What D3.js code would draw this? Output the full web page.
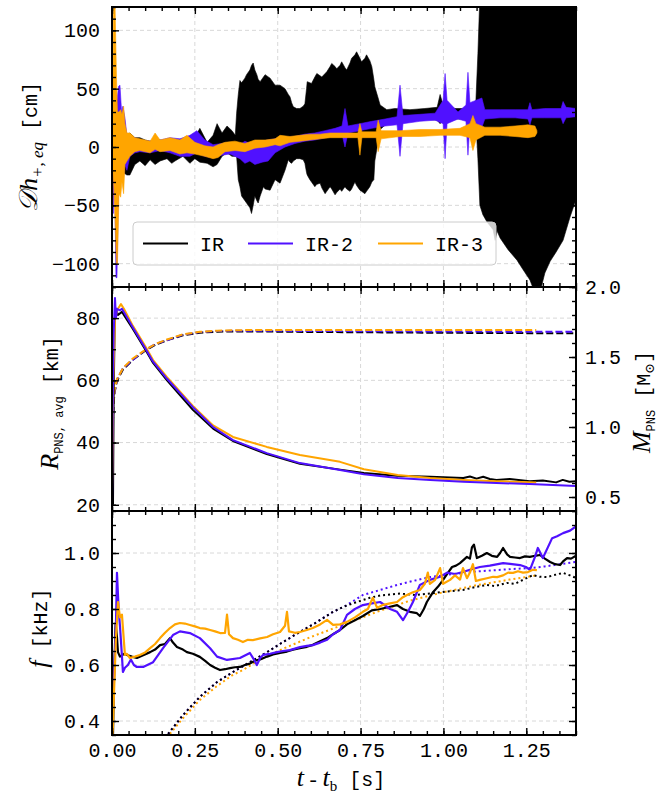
<!DOCTYPE html>
<html>
<head>
<meta charset="utf-8">
<script src="https://cdn.jsdelivr.net/npm/d3@7"></script>
<style>
	body { margin: 0; background: #fff; }
	svg { display: block; }
</style>
</head>
<body>
<svg id="chart" width="668" height="793"></svg>
<script>
// ---- data ----
const seriesNames = ['IR', 'IR-2', 'IR-3'];
const seriesColors = ['#000000', '#5011ff', '#ffa500'];

const timeTicks = [0, 0.25, 0.5, 0.75, 1.0, 1.25];
const strainTicks = [-100, -50, 0, 50, 100];
const radiusTicks = [20, 40, 60, 80];
const massTicks = [0.5, 1.0, 1.5, 2.0];
const freqTicks = [0.4, 0.6, 0.8, 1.0];

// strain envelopes: [t, lower, upper] in cm
const strainIR = [
	[0, -5, 5], [0.009, -20, 20], [0.024, -20, 10], [0.045, -24, 10], [0.054, -24, 12], [0.069, -15, 8],
	[0.084, -12, 8], [0.1, -16, 6], [0.115, -11, 5], [0.13, -15, 7], [0.145, -12, 6], [0.166, -10, 4],
	[0.18, -14, 5], [0.19, -12, 3], [0.214, -8, 2], [0.235, -14, 6], [0.25, -10, 8], [0.265, -13, 16],
	[0.287, -14, 4], [0.305, -17, 10], [0.317, -15, 20], [0.332, -8, 12], [0.347, -5, 18], [0.362, -8, 14],
	[0.372, -8, 10], [0.376, -8, 29], [0.381, -28, 45], [0.386, -34, 57], [0.391, -42, 55], [0.401, -46, 59],
	[0.406, -48, 62], [0.416, -52, 66], [0.421, -57, 70], [0.426, -50, 72], [0.431, -42, 66], [0.437, -46, 62],
	[0.441, -48, 58], [0.447, -42, 56], [0.457, -34, 60], [0.462, -36, 62], [0.477, -37, 59], [0.492, -28, 53],
	[0.507, -31, 53], [0.522, -20, 50], [0.532, -11, 45], [0.537, -13, 43], [0.542, -14, 38], [0.547, -12, 34.5],
	[0.557, -10, 33], [0.567, -10, 33], [0.577, -11, 35], [0.582, -14, 37], [0.587, -22, 50], [0.589, -24, 56],
	[0.597, -28, 55], [0.602, -30, 54.5], [0.612, -34, 60], [0.618, -32, 63], [0.628, -31, 61], [0.633, -35, 60],
	[0.643, -40, 63], [0.648, -38, 64.5], [0.658, -34, 69], [0.663, -36, 71.6], [0.673, -41, 69], [0.678, -39, 67],
	[0.688, -36, 70], [0.693, -38, 73], [0.703, -34, 68], [0.708, -36, 66], [0.718, -38, 72], [0.723, -36, 76],
	[0.733, -30, 79], [0.738, -33, 81.6], [0.748, -37, 76], [0.753, -38, 73], [0.763, -40, 76], [0.768, -38, 79],
	[0.778, -34, 74], [0.784, -30, 68.8], [0.79, -28, 58], [0.793, -12, 51.6], [0.803, 5, 42], [0.809, 15, 36],
	[0.829, 20, 32], [0.854, 22, 33], [0.899, 24, 32], [0.944, 24, 33], [0.981, 23, 34], [0.99, 20, 45],
	[0.999, 24, 36], [1.035, 24, 33], [1.08, 24, 33], [1.098, 22, 40], [1.104, -10, 80], [1.11, -50, 130],
	[1.119, -58, 160], [1.131, -64, 160], [1.15, -71, 160], [1.156, -80, 160], [1.162, -72, 160],
	[1.171, -78, 160], [1.195, -88, 160], [1.222, -97, 160], [1.24, -105, 160], [1.261, -114, 160],
	[1.276, -125, 160], [1.291, -125, 160], [1.306, -108, 160], [1.322, -98, 160], [1.34, -90, 160],
	[1.361, -80, 160], [1.382, -60, 160], [1.4, -45, 160]
];
const strainIR2 = [
	[0, 10, 17], [0.002, -55, 17], [0.004, -57, 10], [0.0075, -20, 20], [0.012, -112, 10], [0.015, -112, 40],
	[0.02, -30, 52], [0.024, -20, 53], [0.029, -25, 30], [0.033, -30, 35], [0.039, -15, 25], [0.045, -20, 10],
	[0.054, -8, 10], [0.069, -5, 8], [0.084, -4, 6], [0.115, -5, 5], [0.145, -3, 6], [0.175, -5, 8],
	[0.205, -8, 7], [0.235, -8, 10], [0.256, -5, 14], [0.28, -8, 6], [0.305, -9, 2], [0.332, -7, 3],
	[0.356, -6, 4], [0.386, -10, 2], [0.401, -14, 5], [0.416, -12, 3], [0.431, -15, 4], [0.453, -13, 5],
	[0.471, -12, 6], [0.492, -5, 7], [0.522, 0, 8], [0.552, 3, 9], [0.582, 5, 11], [0.612, 6, 12],
	[0.643, 8, 14], [0.673, 10, 16], [0.694, 11, 18], [0.703, 0, 33], [0.712, 12, 18], [0.748, 14, 20],
	[0.784, 16, 22], [0.824, 18, 24], [0.86, 19, 26], [0.869, -8, 53], [0.878, 20, 27], [0.929, 22, 28],
	[0.975, 23, 29], [0.999, 20, 40], [1.005, -10, 63], [1.011, 20, 40], [1.044, 24, 30], [1.068, 22, 36],
	[1.074, -7, 64], [1.08, 20, 38], [1.116, 17, 42], [1.125, 24, 32], [1.171, 25, 32], [1.216, 25, 32],
	[1.255, 24, 32], [1.261, 19, 38], [1.267, 25, 32], [1.306, 25, 33], [1.355, 25, 33], [1.361, 20, 39],
	[1.37, 25, 34], [1.4, 26, 33]
];
const strainIR3 = [
	[0, -5, 5], [0.002, -50, 15], [0.0045, -20, 125], [0.009, -60, 125], [0.0135, -100, 60], [0.0165, -100, 30],
	[0.021, -40, 30], [0.026, -43, 32], [0.03, -30, 28], [0.035, -40, 35], [0.039, -15, 20], [0.045, -12, 12],
	[0.054, -8, 12], [0.069, -4, 8], [0.084, -3, 7], [0.115, -5, 5], [0.13, -2, 12], [0.145, -4, 6],
	[0.175, -3, 8], [0.205, -6, 6], [0.226, -5, 10], [0.25, -6, 4], [0.28, -8, 1], [0.305, -10, 0],
	[0.32, -9, 2], [0.341, -4, 4], [0.371, -3, 5], [0.401, -4, 3], [0.431, -1, 6], [0.462, 0, 6],
	[0.492, 2, 7], [0.507, 1, 10], [0.537, 4, 9], [0.567, 5, 10], [0.597, 6, 11], [0.628, 7, 11],
	[0.658, 8, 12], [0.703, 8, 12], [0.742, 8, 12], [0.748, -7, 20], [0.754, 8, 13], [0.797, 8, 13],
	[0.803, -4, 23], [0.812, 7, 14], [0.869, 9, 14], [0.929, 9, 15], [0.99, 10, 15], [1.05, 10, 16],
	[1.08, 8, 20], [1.089, -3, 27], [1.098, 6, 20], [1.125, 10, 17], [1.171, 10, 17], [1.216, 9, 18],
	[1.255, 8, 19], [1.276, 9, 18], [1.282, 12, 14]
];

// PNS radius [t, km]
const radiusIR = [
	[0.003, 20], [0.005, 55], [0.008, 78], [0.012, 83], [0.018, 81], [0.03, 82], [0.063, 76.5], [0.1, 70],
	[0.124, 65.6], [0.166, 60], [0.244, 50.5], [0.305, 44.5], [0.365, 40.5], [0.467, 36.3], [0.567, 33.2],
	[0.688, 31.3], [0.76, 30.2], [0.86, 29.3], [0.96, 29.0], [1.06, 28.6], [1.08, 29.1], [1.1, 28.4],
	[1.12, 29.0], [1.14, 28.3], [1.16, 28.0], [1.2, 28.3], [1.26, 27.6], [1.3, 27.8], [1.34, 27.2],
	[1.36, 28.0], [1.38, 27.4], [1.4, 27.6]
];
const radiusIR2 = [
	[0, 20], [0.002, 50], [0.005, 75], [0.009, 86.5], [0.012, 80], [0.015, 83], [0.024, 82.5], [0.03, 83],
	[0.063, 77], [0.1, 70.4], [0.124, 66], [0.166, 60.5], [0.244, 51.4], [0.305, 45], [0.365, 40.8],
	[0.467, 36.6], [0.567, 33.4], [0.688, 31.2], [0.76, 29.8], [0.862, 28.6], [0.96, 28.0], [1.06, 27.4],
	[1.16, 27.0], [1.26, 26.7], [1.4, 26.0]
];
const radiusIR3 = [
	[0, 25], [0.004, 60], [0.009, 80], [0.018, 83], [0.027, 84.5], [0.036, 83], [0.063, 77.5], [0.1, 71],
	[0.124, 66.5], [0.166, 61], [0.244, 51.8], [0.305, 45.5], [0.365, 41.8], [0.467, 38.6], [0.567, 36],
	[0.688, 33.8], [0.76, 31.4], [0.862, 29.6], [0.96, 28.6], [1.06, 28.0], [1.16, 27.6], [1.28, 27.2]
];

// PNS mass [t, Msun]
const massIR = [
	[0, 0.45], [0.002, 0.95], [0.004, 1.15], [0.008, 1.25], [0.015, 1.33], [0.033, 1.41], [0.063, 1.48],
	[0.1, 1.545], [0.133, 1.59], [0.166, 1.62], [0.214, 1.655], [0.265, 1.673], [0.317, 1.681], [0.4, 1.683],
	[0.6, 1.679], [0.8, 1.676], [1.0, 1.673], [1.2, 1.671], [1.4, 1.669]
];
const massIR2 = [
	[0, 0.45], [0.002, 0.95], [0.004, 1.16], [0.008, 1.26], [0.015, 1.34], [0.033, 1.42], [0.063, 1.48],
	[0.1, 1.55], [0.133, 1.595], [0.166, 1.62], [0.214, 1.66], [0.265, 1.678], [0.317, 1.686], [0.4, 1.688],
	[0.6, 1.686], [0.8, 1.684], [1.0, 1.682], [1.2, 1.681], [1.4, 1.68]
];
const massIR3 = [
	[0, 0.45], [0.002, 1.0], [0.004, 1.18], [0.008, 1.27], [0.015, 1.34], [0.033, 1.42], [0.063, 1.49],
	[0.1, 1.55], [0.133, 1.595], [0.166, 1.625], [0.214, 1.662], [0.265, 1.68], [0.317, 1.688], [0.4, 1.692],
	[0.6, 1.693], [0.8, 1.693], [1.0, 1.693], [1.2, 1.693], [1.28, 1.693]
];

// dominant GW frequency [t, kHz]
const freqIR = [
	[0.003, 0.35], [0.006, 0.55], [0.011, 0.75], [0.015, 0.70], [0.018, 0.646], [0.024, 0.63], [0.036, 0.64],
	[0.045, 0.636], [0.06, 0.63], [0.075, 0.625], [0.094, 0.635], [0.115, 0.646], [0.13, 0.655], [0.145, 0.671],
	[0.16, 0.675], [0.175, 0.696], [0.184, 0.68], [0.196, 0.664], [0.214, 0.655], [0.226, 0.646], [0.244, 0.64],
	[0.265, 0.629], [0.281, 0.615], [0.296, 0.60], [0.311, 0.59], [0.326, 0.582], [0.341, 0.585], [0.356, 0.589],
	[0.371, 0.592], [0.386, 0.593], [0.401, 0.60], [0.416, 0.605], [0.431, 0.615], [0.447, 0.62], [0.468, 0.63],
	[0.486, 0.638], [0.507, 0.643], [0.528, 0.648], [0.546, 0.655], [0.567, 0.66], [0.588, 0.665], [0.606, 0.672],
	[0.628, 0.685], [0.649, 0.696], [0.667, 0.71], [0.688, 0.725], [0.709, 0.745], [0.733, 0.76], [0.757, 0.775],
	[0.784, 0.795], [0.809, 0.80], [0.839, 0.808], [0.86, 0.814], [0.878, 0.80], [0.899, 0.79], [0.92, 0.785],
	[0.929, 0.775], [0.941, 0.80], [0.95, 0.825], [0.969, 0.861], [0.984, 0.88], [0.999, 0.904], [1.014, 0.93],
	[1.026, 0.95], [1.038, 0.955], [1.05, 0.964], [1.071, 0.986], [1.08, 0.98], [1.086, 1.02], [1.092, 1.03],
	[1.101, 0.982], [1.116, 0.99], [1.131, 1.0], [1.146, 0.99], [1.162, 0.986], [1.171, 1.0], [1.18, 1.018],
	[1.192, 0.995], [1.201, 0.986], [1.216, 0.984], [1.231, 0.982], [1.246, 0.988], [1.261, 0.986], [1.276, 0.99],
	[1.291, 0.993], [1.306, 0.98], [1.322, 0.968], [1.337, 0.96], [1.352, 0.957], [1.361, 0.97], [1.373, 0.982],
	[1.385, 0.98], [1.4, 0.99]
];
const freqIR2 = [
	[0, 0.35], [0.006, 0.55], [0.012, 0.75], [0.015, 0.929], [0.02, 0.80], [0.024, 0.74], [0.029, 0.65],
	[0.033, 0.575], [0.039, 0.59], [0.048, 0.60], [0.057, 0.62], [0.066, 0.60], [0.075, 0.593], [0.094, 0.593],
	[0.124, 0.61], [0.154, 0.66], [0.184, 0.707], [0.205, 0.72], [0.235, 0.714], [0.265, 0.696], [0.296, 0.66],
	[0.317, 0.63], [0.347, 0.618], [0.386, 0.625], [0.416, 0.643], [0.428, 0.62], [0.437, 0.60], [0.447, 0.625],
	[0.456, 0.636], [0.477, 0.64], [0.498, 0.646], [0.516, 0.65], [0.537, 0.653], [0.567, 0.664], [0.588, 0.668],
	[0.606, 0.671], [0.628, 0.68], [0.649, 0.69], [0.667, 0.71], [0.688, 0.725], [0.709, 0.779], [0.733, 0.80],
	[0.757, 0.814], [0.784, 0.82], [0.809, 0.825], [0.839, 0.80], [0.86, 0.79], [0.878, 0.76], [0.893, 0.79],
	[0.908, 0.825], [0.929, 0.886], [0.959, 0.904], [0.99, 0.915], [1.011, 0.93], [1.035, 0.925], [1.059, 0.932],
	[1.08, 0.94], [1.11, 0.95], [1.14, 0.955], [1.18, 0.964], [1.207, 0.96], [1.231, 0.957], [1.249, 0.95],
	[1.261, 0.94], [1.276, 0.985], [1.285, 1.018], [1.3, 0.982], [1.315, 1.02], [1.328, 1.053], [1.343, 1.06],
	[1.361, 1.071], [1.382, 1.08], [1.4, 1.095]
];
const freqIR3 = [
	[0.002, 0.35], [0.006, 0.50], [0.012, 0.70], [0.015, 0.76], [0.018, 0.825], [0.024, 0.77], [0.03, 0.78],
	[0.035, 0.70], [0.039, 0.636], [0.045, 0.64], [0.054, 0.625], [0.069, 0.63], [0.084, 0.636], [0.1, 0.645],
	[0.115, 0.66], [0.13, 0.675], [0.145, 0.696], [0.16, 0.715], [0.175, 0.732], [0.19, 0.745], [0.205, 0.75],
	[0.22, 0.748], [0.235, 0.743], [0.25, 0.738], [0.265, 0.732], [0.281, 0.73], [0.296, 0.725], [0.311, 0.72],
	[0.326, 0.714], [0.341, 0.715], [0.347, 0.78], [0.353, 0.71], [0.365, 0.696], [0.38, 0.69], [0.395, 0.682],
	[0.41, 0.69], [0.425, 0.689], [0.447, 0.695], [0.468, 0.70], [0.486, 0.71], [0.507, 0.718], [0.522, 0.74],
	[0.528, 0.79], [0.534, 0.72], [0.552, 0.715], [0.567, 0.718], [0.588, 0.725], [0.606, 0.732], [0.628, 0.745],
	[0.649, 0.761], [0.667, 0.743], [0.688, 0.745], [0.709, 0.754], [0.733, 0.77], [0.757, 0.79], [0.772, 0.80],
	[0.787, 0.84], [0.8, 0.804], [0.818, 0.815], [0.839, 0.82], [0.86, 0.825], [0.875, 0.84], [0.89, 0.85],
	[0.908, 0.86], [0.929, 0.868], [0.944, 0.89], [0.953, 0.93], [0.959, 0.89], [0.975, 0.904], [0.99, 0.946],
	[0.999, 0.89], [1.02, 0.904], [1.035, 0.92], [1.05, 0.905], [1.059, 0.946], [1.071, 0.91], [1.08, 0.93],
	[1.089, 0.96], [1.098, 0.90], [1.11, 0.904], [1.131, 0.91], [1.15, 0.915], [1.162, 0.914], [1.18, 0.92],
	[1.195, 0.93], [1.21, 0.929], [1.225, 0.935], [1.24, 0.93], [1.255, 0.932], [1.27, 0.94], [1.282, 0.939]
];

// dotted model frequencies [t, kHz]
const fitIR = [
	[0.16, 0.34], [0.214, 0.421], [0.265, 0.486], [0.317, 0.539], [0.365, 0.575], [0.416, 0.61], [0.468, 0.646],
	[0.516, 0.682], [0.567, 0.718], [0.619, 0.754], [0.667, 0.79], [0.703, 0.81], [0.739, 0.825], [0.778, 0.84],
	[0.809, 0.848], [0.869, 0.855], [0.914, 0.85], [0.959, 0.855], [1.005, 0.862], [1.059, 0.868], [1.095, 0.878],
	[1.131, 0.886], [1.156, 0.882], [1.192, 0.893], [1.216, 0.89], [1.24, 0.904], [1.27, 0.921], [1.291, 0.915],
	[1.312, 0.914], [1.337, 0.922], [1.361, 0.929], [1.382, 0.92], [1.4, 0.911]
];
const fitIR2 = [
	[0.16, 0.34], [0.214, 0.421], [0.265, 0.486], [0.317, 0.539], [0.365, 0.575], [0.416, 0.61], [0.468, 0.646],
	[0.516, 0.682], [0.567, 0.718], [0.619, 0.754], [0.667, 0.79], [0.703, 0.81], [0.757, 0.85], [0.809, 0.868],
	[0.86, 0.886], [0.908, 0.90], [0.959, 0.914], [1.011, 0.922], [1.059, 0.929], [1.11, 0.935], [1.162, 0.939],
	[1.21, 0.943], [1.261, 0.946], [1.306, 0.952], [1.352, 0.96], [1.4, 0.968]
];
const fitIR3 = [
	[0.165, 0.34], [0.214, 0.41], [0.265, 0.475], [0.317, 0.525], [0.365, 0.565], [0.395, 0.582], [0.447, 0.62],
	[0.52, 0.66], [0.6, 0.70], [0.7, 0.745], [0.8, 0.79], [0.9, 0.83], [1.0, 0.86], [1.1, 0.885], [1.2, 0.905],
	[1.28, 0.92]
];

// ---- layout ----
const left = 112, right = 576;
const panelTop = [7, 287, 511];
const panelBottom = [287, 511, 735];
const font = {
	tt: "'Liberation Mono', 'DejaVu Sans Mono', monospace",
	math: "'Liberation Serif', 'DejaVu Serif', serif"
};

const svg = d3.select('#chart');

const x = d3.scaleLinear().domain([0, 1.4]).range([left, right]);
const yStrain = d3.scaleLinear().domain([-120, 120]).range([panelBottom[0], panelTop[0]]);
const yRadius = d3.scaleLinear().domain([18, 90]).range([panelBottom[1], panelTop[1]]);
const yMass = d3.scaleLinear().domain([0.4, 2.0]).range([panelBottom[1], panelTop[1]]);
const yFreq = d3.scaleLinear().domain([0.35, 1.15]).range([panelBottom[2], panelTop[2]]);

const defs = svg.append('defs');
panelTop.forEach((t, i) => {
	defs.append('clipPath').attr('id', `clip${i}`)
		.append('rect').attr('x', left).attr('y', t).attr('width', right - left).attr('height', panelBottom[i] - t);
});

function grid(g, yScale, yVals, i) {
	const gg = g.append('g').attr('stroke', '#d8d8d8').attr('stroke-width', 1).attr('stroke-dasharray', '4,3');
	timeTicks.slice(1).forEach(v => {
		gg.append('line').attr('x1', x(v)).attr('x2', x(v)).attr('y1', panelTop[i]).attr('y2', panelBottom[i]);
	});
	yVals.forEach(v => {
		gg.append('line').attr('x1', left).attr('x2', right).attr('y1', yScale(v)).attr('y2', yScale(v));
	});
}

function styleAxis(sel) {
	sel.attr('font-family', font.tt).attr('font-size', 20);
	sel.select('.domain').remove();
	sel.selectAll('.tick line').attr('stroke', '#000').attr('stroke-width', 1.4);
	sel.selectAll('.tick text').attr('fill', '#000');
}

function minorRange(a, b, step) {
	return d3.range(Math.round(a / step), Math.round(b / step) + 1).map(k => k * step);
}

function timeAxes(i, labels) {
	const minor = minorRange(0, 1.4, 0.05);
	svg.append('g').attr('transform', `translate(0,${panelBottom[i]})`)
		.call(d3.axisBottom(x).tickValues(minor).tickSize(-4).tickFormat('')).call(styleAxis);
	svg.append('g').attr('transform', `translate(0,${panelBottom[i]})`)
		.call(d3.axisBottom(x).tickValues(timeTicks).tickSize(-7).tickPadding(8)
			.tickFormat(labels ? d3.format('.2f') : '')).call(styleAxis);
	svg.append('g').attr('transform', `translate(0,${panelTop[i]})`)
		.call(d3.axisTop(x).tickValues(minor).tickSize(-4).tickFormat('')).call(styleAxis);
	svg.append('g').attr('transform', `translate(0,${panelTop[i]})`)
		.call(d3.axisTop(x).tickValues(timeTicks).tickSize(-7).tickFormat('')).call(styleAxis);
}

function valueAxis(scale, majors, minorStep, fmt, side) {
	const [lo, hi] = scale.domain();
	const minor = minorRange(Math.ceil(lo / minorStep) * minorStep, Math.floor(hi / minorStep + 1e-9) * minorStep, minorStep);
	const make = side === 'left' ? d3.axisLeft : d3.axisRight;
	const pos = side === 'left' ? left : right;
	svg.append('g').attr('transform', `translate(${pos},0)`)
		.call(make(scale).tickValues(minor).tickSize(-4).tickFormat('')).call(styleAxis);
	svg.append('g').attr('transform', `translate(${pos},0)`)
		.call(make(scale).tickValues(majors).tickSize(-7).tickPadding(side === 'left' ? 12 : 9)
			.tickFormat(fmt ? d3.format(fmt) : '')).call(styleAxis);
}

// ---- panel 1: strain ----
grid(svg, yStrain, strainTicks, 0);
const strainG = svg.append('g').attr('clip-path', 'url(#clip0)');
const envelope = d3.area().x(d => x(d[0])).y0(d => yStrain(d[1])).y1(d => yStrain(d[2]));
[strainIR, strainIR2, strainIR3].forEach((data, k) => {
	strainG.append('path').datum(data).attr('d', envelope)
		.attr('fill', seriesColors[k]).attr('stroke', seriesColors[k]).attr('stroke-width', 0.6)
		.attr('stroke-linejoin', 'round');
});

// legend
const legend = svg.append('g');
legend.append('rect').attr('x', 133).attr('y', 222).attr('width', 363).attr('height', 43).attr('rx', 4)
	.attr('fill', '#fff').attr('fill-opacity', 0.8).attr('stroke', '#cccccc').attr('stroke-width', 1);
const legendX = [143, 248, 378];
seriesNames.forEach((name, k) => {
	legend.append('line').attr('x1', legendX[k]).attr('x2', legendX[k] + 45).attr('y1', 243.5).attr('y2', 243.5)
		.attr('stroke', seriesColors[k]).attr('stroke-width', 2);
	legend.append('text').attr('x', legendX[k] + 57).attr('y', 243.5).attr('dy', '0.35em')
		.attr('font-family', font.tt).attr('font-size', 20).text(name);
});

// ---- panel 2: radius and mass ----
grid(svg, yRadius, radiusTicks, 1);
const midG = svg.append('g').attr('clip-path', 'url(#clip1)');
const radiusLine = d3.line().x(d => x(d[0])).y(d => yRadius(d[1]));
const massLine = d3.line().x(d => x(d[0])).y(d => yMass(d[1]));
[massIR, massIR2, massIR3].forEach((data, k) => {
	midG.append('path').datum(data).attr('d', massLine).attr('fill', 'none')
		.attr('stroke', seriesColors[k]).attr('stroke-width', 2).attr('stroke-dasharray', '7,3');
});
[[radiusIR, 0], [radiusIR3, 2], [radiusIR2, 1]].forEach(([data, k]) => {
	midG.append('path').datum(data).attr('d', radiusLine).attr('fill', 'none')
		.attr('stroke', seriesColors[k]).attr('stroke-width', 2).attr('stroke-linejoin', 'round');
});

// ---- panel 3: frequency ----
grid(svg, yFreq, freqTicks, 2);
const botG = svg.append('g').attr('clip-path', 'url(#clip2)');
const freqLine = d3.line().x(d => x(d[0])).y(d => yFreq(d[1]));
[fitIR3, fitIR2, fitIR].forEach((data, j) => {
	const k = 2 - j;
	botG.append('path').datum(data).attr('d', freqLine).attr('fill', 'none')
		.attr('stroke', seriesColors[k]).attr('stroke-width', 2).attr('stroke-dasharray', '2,3');
});
[freqIR, freqIR2, freqIR3].forEach((data, k) => {
	botG.append('path').datum(data).attr('d', freqLine).attr('fill', 'none')
		.attr('stroke', seriesColors[k]).attr('stroke-width', 2.2).attr('stroke-linejoin', 'round');
});

// ---- axes and frames ----
[0, 1, 2].forEach(i => timeAxes(i, i === 2));
valueAxis(yStrain, strainTicks, 10, 'd', 'left');
valueAxis(yStrain, strainTicks, 10, null, 'right');
valueAxis(yRadius, radiusTicks, 10, 'd', 'left');
valueAxis(yMass, massTicks, 0.1, '.1f', 'right');
valueAxis(yFreq, freqTicks, 0.05, '.1f', 'left');
valueAxis(yFreq, freqTicks, 0.05, null, 'right');

panelTop.forEach((t, i) => {
	svg.append('rect').attr('x', left).attr('y', t).attr('width', right - left).attr('height', panelBottom[i] - t)
		.attr('fill', 'none').attr('stroke', '#000').attr('stroke-width', 2);
});

// ---- axis titles ----
function title(tx, ty, rotate, parts) {
	const t = svg.append('text').attr('text-anchor', 'middle')
		.attr('transform', `translate(${tx},${ty})` + (rotate ? ' rotate(-90)' : ''));
	parts.forEach(p => {
		const s = t.append('tspan').text(p.text)
			.attr('font-family', p.tt ? font.tt : font.math)
			.attr('font-size', p.size)
			.attr('font-style', p.italic ? 'italic' : 'normal');
		if (p.dy) s.attr('dy', p.dy);
		if (p.dx) s.attr('dx', p.dx);
	});
}

title(37, 147, true, [
	{text: '\u{1D49F}', size: 26, italic: true},
	{text: 'h', size: 26, italic: true},
	{text: '+, eq', size: 17, italic: true, dy: 6},
	{text: ' [cm]', size: 20, tt: true, dy: -6}
]);
title(58, 403, true, [
	{text: 'R', size: 26, italic: true},
	{text: 'PNS, avg', size: 12, tt: true, dy: 5},
	{text: ' [km]', size: 20, tt: true, dy: -5}
]);
title(47, 628, true, [
	{text: 'f', size: 26, italic: true},
	{text: ' [kHz]', size: 20, tt: true}
]);
title(650, 402, true, [
	{text: 'M', size: 26, italic: true},
	{text: 'PNS', size: 12, tt: true, dy: 5},
	{text: ' [M', size: 20, tt: true, dy: -5},
	{text: '\u2299', size: 13, dy: 4},
	{text: ']', size: 20, tt: true, dy: -4}
]);
title(341, 786, false, [
	{text: 't', size: 26, italic: true},
	{text: ' - ', size: 22},
	{text: 't', size: 26, italic: true},
	{text: 'b', size: 15, dy: 5},
	{text: ' [s]', size: 20, tt: true, dy: -5}
]);
</script>
</body>
</html>
